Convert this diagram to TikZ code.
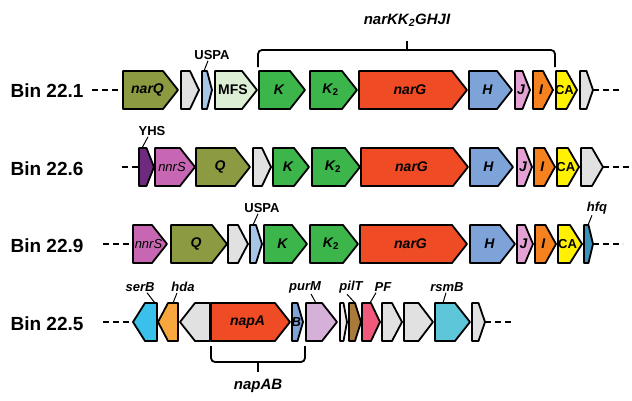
\documentclass[tikz,border=0pt]{standalone}
\usepackage{fontspec}
\setmainfont{Liberation Sans}
\usetikzlibrary{calc}
\definecolor{olive}{HTML}{8C9A42}
\definecolor{lgray}{HTML}{E1E1E1}
\definecolor{vlgray}{HTML}{EEEEEE}
\definecolor{uspa}{HTML}{A8C4E6}
\definecolor{mfs}{HTML}{DCEFD4}
\definecolor{kgreen}{HTML}{3CB54A}
\definecolor{gred}{HTML}{EF4B24}
\definecolor{hblue}{HTML}{7DA3D9}
\definecolor{jpink}{HTML}{E3A2D3}
\definecolor{iorange}{HTML}{F5821F}
\definecolor{cayellow}{HTML}{FFF100}
\definecolor{yhs}{HTML}{6E2A7E}
\definecolor{nnrs}{HTML}{C766B3}
\definecolor{hfq}{HTML}{3A93B8}
\definecolor{serb}{HTML}{39C0EB}
\definecolor{hda}{HTML}{F8A73E}
\definecolor{purm}{HTML}{D5B1D9}
\definecolor{pilt}{HTML}{A97A3A}
\definecolor{pf}{HTML}{EF5A7C}
\definecolor{rsmb}{HTML}{5DC6D9}
% right-pointing gene: name, x1, x2, yc, fill, text
\newcommand{\geneR}[6]{%
  \pgfmathsetmacro{\gh}{min(15,(#3-#2)/2)}%
  \pgfmathsetmacro{\gb}{#3-\gh}%
  \pgfmathsetmacro{\gx}{(#2+#3)/2-\gh/5}%
  \draw[gene,fill=#5] (#2,#4-19) -- (\gb,#4-19) -- (#3,#4) -- (\gb,#4+19) -- (#2,#4+19) -- cycle;%
  \coordinate (#1-w) at (#2,#4);%
  \coordinate (#1-e) at (#3,#4);%
  \node[glab] (#1) at (\gx,#4) {#6};%
}
% left-pointing gene
\newcommand{\geneL}[6]{%
  \pgfmathsetmacro{\gh}{min(15,(#3-#2)/2)}%
  \pgfmathsetmacro{\gb}{#2+\gh}%
  \pgfmathsetmacro{\gx}{(#2+#3)/2+\gh/5}%
  \draw[gene,fill=#5] (#2,#4) -- (\gb,#4-19) -- (#3,#4-19) -- (#3,#4+19) -- (\gb,#4+19) -- cycle;%
  \coordinate (#1-w) at (#2,#4);%
  \coordinate (#1-e) at (#3,#4);%
  \node[glab] (#1) at (\gx,#4) {#6};%
}
\begin{document}
\begin{tikzpicture}[x=1pt,y=-1pt,
  gene/.style={draw=black,line width=1.8pt,line join=round},
  glab/.style={font=\fontsize{14}{14}\selectfont\bfseries\itshape,inner sep=0pt},
  slab/.style={font=\fontsize{13}{13}\selectfont\bfseries,inner sep=1pt},
  binlab/.style={font=\fontsize{19}{19}\selectfont\bfseries,inner sep=0pt},
  blab/.style={font=\fontsize{15}{15}\selectfont\bfseries\itshape,inner sep=0pt},
  dashline/.style={line width=1.8pt,dash pattern=on 6pt off 4pt},
  lead/.style={line width=1pt},
  brace/.style={line width=1.8pt,rounded corners=4pt}]
\useasboundingbox (0,0) rectangle (632,400);

% ---------- Bin labels
\node[binlab] (bin1) at (47,91) {Bin 22.1};
\node[binlab] (bin2) at (47,169) {Bin 22.6};
\node[binlab] (bin3) at (47,246) {Bin 22.9};
\node[binlab] (bin4) at (47,324) {Bin 22.5};

% ---------- dashes
\coordinate (d1a) at (92,90);   \coordinate (d1b) at (622,90);
\coordinate (d2a) at (122,167); \coordinate (d2b) at (630,167);
\coordinate (d3a) at (103,244); \coordinate (d3b) at (623,244);
\coordinate (d4a) at (103,322); \coordinate (d4b) at (513,322);
\draw[dashline] (d1a) -- (123,90);
\draw[dashline] (593,90) -- (d1b);
\draw[dashline] (d2a) -- (139,167);
\draw[dashline] (603,167) -- (d2b);
\draw[dashline] (d3a) -- (133,244);
\draw[dashline] (593,244) -- (d3b);
\draw[dashline] (d4a) -- (133,322);
\draw[dashline] (485,322) -- (d4b);

% ---------- Row 1
\geneR{narQ1}{123}{178}{90}{olive}{narQ}
\geneR{g1a}{181}{199}{90}{lgray}{}
\geneR{uspa1}{202}{212}{90}{uspa}{}
\geneR{mfs1}{215}{257}{90}{mfs}{\upshape MFS}
\geneR{k1}{259}{305}{90}{kgreen}{K}
\geneR{kk1}{310}{357}{90}{kgreen}{K\textsubscript{\upshape 2}}
\geneR{narG1}{359}{467}{90}{gred}{narG}
\geneR{h1}{469}{512}{90}{hblue}{H}
\geneR{j1}{515}{530}{90}{jpink}{J}
\geneR{i1}{533}{553}{90}{iorange}{I}
\geneR{ca1}{556}{577}{90}{cayellow}{\fontsize{13}{13}\selectfont\upshape CA}
\geneR{g1b}{580}{593}{90}{lgray}{}

\node[slab] (uspaL1) at (212,55) {USPA};
\coordinate (uspaT1) at (204,71);
\draw[lead] ([xshift=-4pt]uspaL1.south) -- (uspaT1);

% bracket narKK2GHJI
\coordinate (brL) at (258,67);
\coordinate (brR) at (555,67);
\coordinate (brC) at (407,50);
\draw[brace] (brL) -- (258,50) -- (555,50) -- (brR);
\node[blab] (narKlab) at (407,20) {narKK\textsubscript{2}GHJI};
\draw[line width=1.8pt] (brC) -- ++(0,-9);

% ---------- Row 2
\geneR{yhs2}{139}{154}{167}{yhs}{}
\geneR{nnrS2}{155}{195}{167}{nnrs}{\fontsize{13}{13}\selectfont\mdseries nnrS}
\geneR{q2}{196}{250}{167}{olive}{Q}
\geneR{g2a}{253}{271}{167}{lgray}{}
\geneR{k2}{273}{309}{167}{kgreen}{K}
\geneR{kk2}{312}{360}{167}{kgreen}{K\textsubscript{\upshape 2}}
\geneR{narG2}{361}{468}{167}{gred}{narG}
\geneR{h2}{470}{513}{167}{hblue}{H}
\geneR{j2}{517}{532}{167}{jpink}{J}
\geneR{i2}{534}{555}{167}{iorange}{I}
\geneR{ca2}{557}{579}{167}{cayellow}{\fontsize{13}{13}\selectfont\upshape CA}
\geneR{g2b}{581}{603}{167}{lgray}{}

\node[slab] (yhsL) at (152,131) {YHS};
\coordinate (yhsT) at (142,148);
\draw[lead] ([xshift=-4pt]yhsL.south) -- (yhsT);

% ---------- Row 3
\geneR{nnrS3}{133}{167}{244}{nnrs}{\fontsize{13}{13}\selectfont\mdseries\hspace{3pt}nnrS}
\geneR{q3}{171}{227}{244}{olive}{Q}
\geneR{g3a}{228}{248}{244}{lgray}{}
\geneR{uspa3}{250}{262}{244}{uspa}{}
\geneR{k3}{264}{307}{244}{kgreen}{K}
\geneR{kk3}{310}{358}{244}{kgreen}{K\textsubscript{\upshape 2}}
\geneR{narG3}{360}{467}{244}{gred}{narG}
\geneR{h3}{470}{515}{244}{hblue}{H}
\geneR{j3}{517}{533}{244}{jpink}{J}
\geneR{i3}{535}{556}{244}{iorange}{I}
\geneR{ca3}{558}{582}{244}{cayellow}{\fontsize{13}{13}\selectfont\upshape CA}
\geneR{hfq3}{584}{593}{244}{hfq}{}

\node[slab] (uspaL3) at (262,208) {USPA};
\coordinate (uspaT3) at (253,225);
\draw[lead] ([xshift=-4pt]uspaL3.south) -- (uspaT3);
\node[slab,font=\fontsize{13}{13}\selectfont\bfseries\itshape] (hfqL) at (597,208) {hfq};
\coordinate (hfqT) at (588,225);
\draw[lead] ([xshift=-5pt]hfqL.south) -- (hfqT);

% ---------- Row 4
\geneL{serB4}{133}{157}{322}{serb}{}
\geneL{hda4}{158}{178}{322}{hda}{}
\geneL{g4a}{180}{210}{322}{lgray}{}
\geneR{napA4}{211}{290}{322}{gred}{napA}
\geneR{b4}{292}{303}{322}{hblue}{\fontsize{13}{13}\selectfont B}
\geneR{purM4}{306}{337}{322}{purm}{}
\geneR{g4b}{340}{347}{322}{vlgray}{}
\geneR{pilT4}{349}{361}{322}{pilt}{}
\geneR{pf4}{362}{380}{322}{pf}{}
\geneR{g4c}{382}{402}{322}{lgray}{}
\geneR{g4d}{404}{433}{322}{lgray}{}
\geneR{rsmB4}{435}{470}{322}{rsmb}{}
\geneR{g4e}{472}{485}{322}{lgray}{}

\tikzset{ilab/.style={slab,font=\fontsize{13}{13}\selectfont\bfseries\itshape}}
\node[ilab] (serBL) at (140,287) {serB};
\coordinate (serBT) at (155,303);
\draw[lead] ([xshift=7pt]serBL.south) -- (serBT);
\node[ilab] (hdaL) at (183,287) {hda};
\coordinate (hdaT) at (173,303);
\draw[lead] ([xshift=-6pt]hdaL.south) -- (hdaT);
\node[ilab] (purML) at (305,287) {purM};
\coordinate (purMT) at (316,303);
\draw[lead] ([xshift=6pt]purML.south) -- (purMT);
\node[ilab] (pilTL) at (351,287) {pilT};
\coordinate (pilTT) at (355,303);
\draw[lead] ([xshift=-4pt]pilTL.south) -- (pilTT);
\node[ilab] (pfL) at (383,287) {PF};
\coordinate (pfT) at (370,303);
\draw[lead] ([xshift=-7pt]pfL.south) -- (pfT);
\node[ilab] (rsmBL) at (447,287) {rsmB};
\coordinate (rsmBT) at (443,303);
\draw[lead] ([xshift=-1pt]rsmBL.south) -- (rsmBT);

% bracket napAB
\coordinate (nbL) at (211,346);
\coordinate (nbR) at (305,346);
\coordinate (nbC) at (258,362);
\draw[brace] (nbL) -- (211,362) -- (305,362) -- (nbR);
\draw[line width=1.8pt] (nbC) -- ++(0,10);
\node[blab] (napABlab) at (258,386) {napAB};
\end{tikzpicture}
\end{document}
